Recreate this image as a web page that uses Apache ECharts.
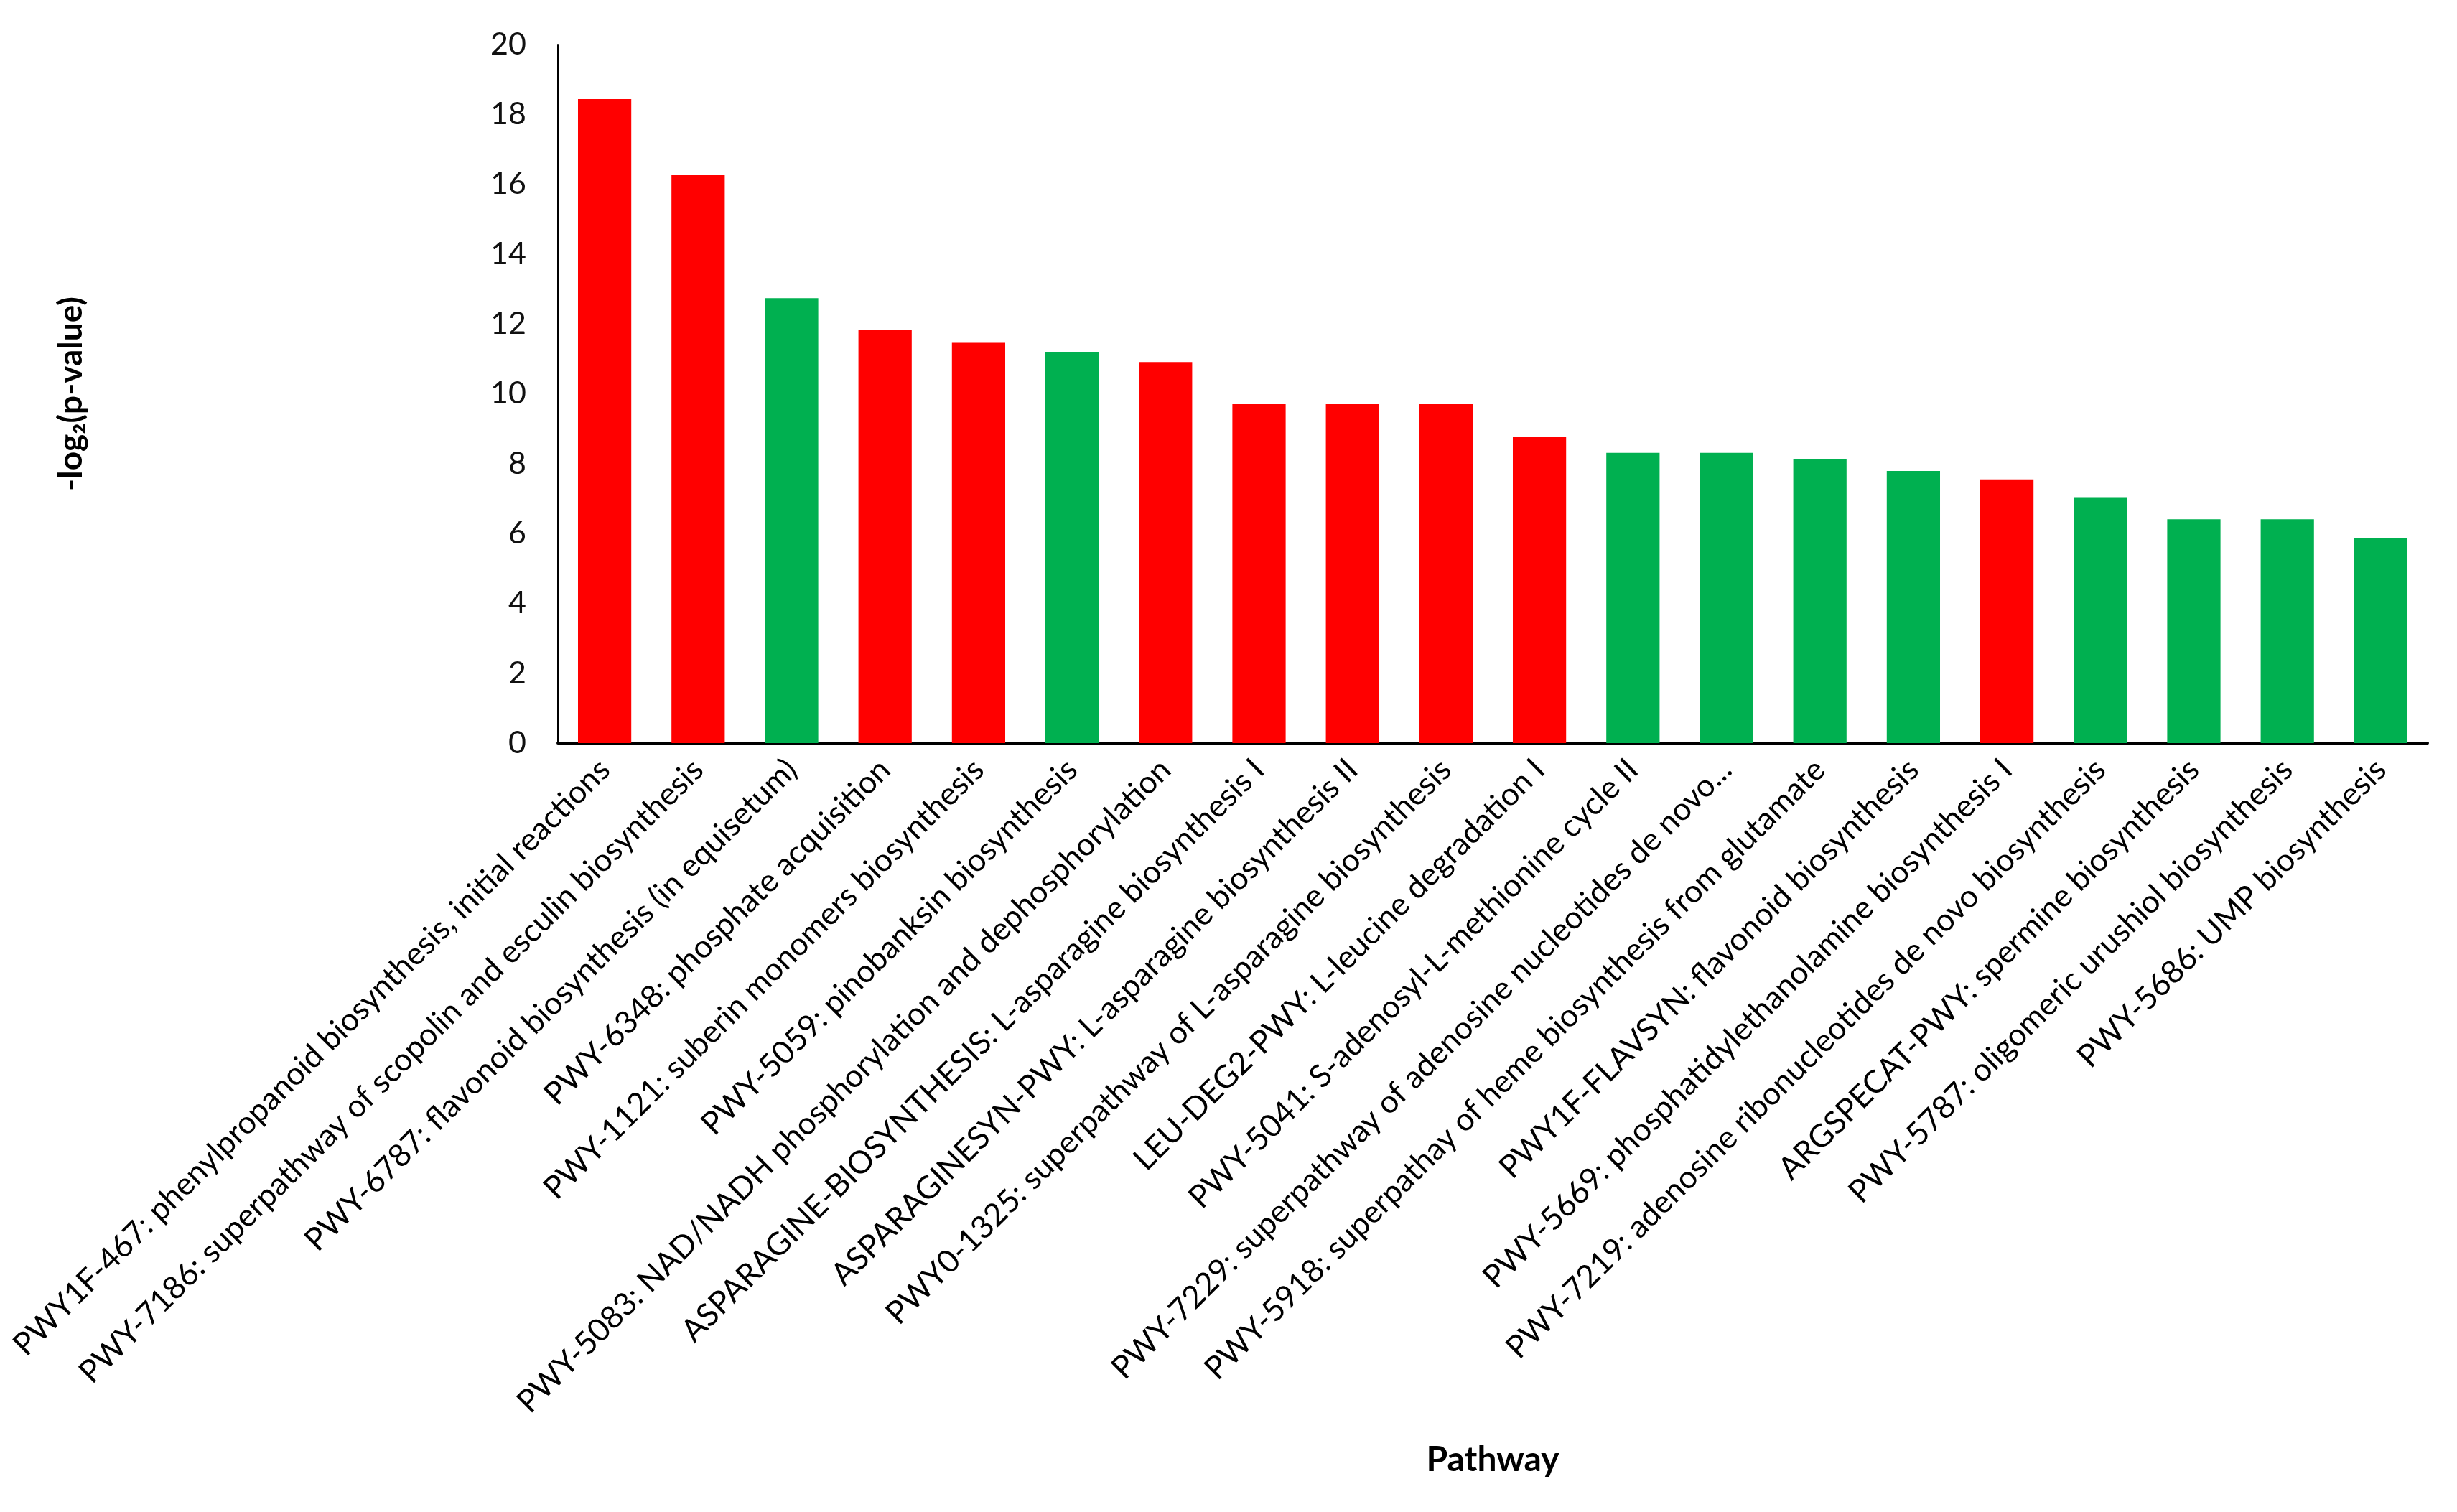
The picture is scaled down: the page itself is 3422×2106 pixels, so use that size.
<!DOCTYPE html>
<html>
<head>
<meta charset="utf-8">
<script src="https://cdn.jsdelivr.net/npm/echarts@6/dist/echarts.min.js"></script>
<style>
html,body{margin:0;padding:0;background:#fff;}
#chart{width:3422px;height:2106px;}
</style>
</head>
<body>
<div id="chart"></div>
<script>
const pathways = [
  "PWY1F-467: phenylpropanoid biosynthesis, initial reactions",
  "PWY-7186: superpathway of scopolin and esculin biosynthesis",
  "PWY-6787: flavonoid biosynthesis (in equisetum)",
  "PWY-6348: phosphate acquisition",
  "PWY-1121: suberin monomers biosynthesis",
  "PWY-5059: pinobanksin biosynthesis",
  "PWY-5083: NAD/NADH phosphorylation and dephosphorylation",
  "ASPARAGINE-BIOSYNTHESIS: L-asparagine biosynthesis I",
  "ASPARAGINESYN-PWY: L-asparagine biosynthesis II",
  "PWY0-1325: superpathway of L-asparagine biosynthesis",
  "LEU-DEG2-PWY: L-leucine degradation I",
  "PWY-5041: S-adenosyl-L-methionine cycle II",
  "PWY-7229: superpathway of adenosine nucleotides de novo...",
  "PWY-5918: superpathay of heme biosynthesis from glutamate",
  "PWY1F-FLAVSYN: flavonoid biosynthesis",
  "PWY-5669: phosphatidylethanolamine biosynthesis I",
  "PWY-7219: adenosine ribonucleotides de novo biosynthesis",
  "ARGSPECAT-PWY: spermine biosynthesis",
  "PWY-5787: oligomeric urushiol biosynthesis",
  "PWY-5686: UMP biosynthesis"
];
const negLog2P = [18.44, 16.26, 12.74, 11.83, 11.46, 11.20, 10.91, 9.70, 9.70, 9.70,
                  8.77, 8.31, 8.31, 8.14, 7.79, 7.55, 7.04, 6.41, 6.41, 5.87];
const groups = ["A","A","B","A","A","B","A","A","A","A",
                "A","B","B","B","B","A","B","B","B","B"];

const groupColor = { A: "#FF0000", B: "#00B050" };
const FONT = "Lato";

const chart = echarts.init(document.getElementById('chart'), null, {renderer: 'canvas'});
chart.setOption({
  backgroundColor: '#ffffff',
  animation: false,
  grid: { left: 777, right: 41, top: 62, bottom: 1071, containLabel: false },
  xAxis: {
    type: 'category',
    data: pathways,
    name: 'Pathway',
    nameLocation: 'middle',
    nameGap: 975,
    nameTextStyle: { fontFamily: FONT, fontSize: 48, fontWeight: 'bold', color: '#000' },
    axisLine: { lineStyle: { color: '#000', width: 4 } },
    axisTick: { show: false },
    axisLabel: { interval: 0, rotate: 45, margin: 30, fontFamily: FONT, fontSize: 44, color: '#000' }
  },
  yAxis: {
    type: 'value',
    min: 0, max: 20, interval: 2,
    name: '-log\u2082(p-value)',
    nameLocation: 'middle',
    nameGap: 655,
    nameRotate: 90,
    nameTextStyle: { fontFamily: FONT, fontSize: 46, fontWeight: 'bold', color: '#000' },
    axisLine: { show: true, lineStyle: { color: '#000', width: 2 } },
    axisTick: { show: false },
    splitLine: { show: false },
    axisLabel: { margin: 44, fontFamily: FONT, fontSize: 43, color: '#111' }
  },
  series: [{
    type: 'bar',
    barCategoryGap: '43%',
    data: negLog2P.map((v, i) => ({ value: v, itemStyle: { color: groupColor[groups[i]] } }))
  }]
});
</script>
</body>
</html>
